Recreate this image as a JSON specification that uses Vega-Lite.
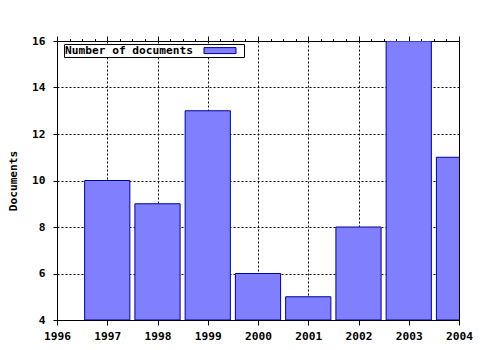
{
  "$schema": "https://vega.github.io/schema/vega-lite/v6.json",
  "width": 402,
  "height": 279,
  "autosize": "none",
  "padding": {"left": 57, "top": 41, "right": 21, "bottom": 30},
  "background": "white",
  "config": {
    "view": {"stroke": "black", "strokeWidth": 1},
    "font": "DejaVu Sans Mono",
    "axis": {
      "labelFont": "DejaVu Sans Mono",
      "labelFontWeight": "bold",
      "labelFontSize": 11.2,
      "labelColor": "black",
      "titleFont": "DejaVu Sans Mono",
      "titleFontWeight": "bold",
      "titleFontSize": 11.2,
      "titleColor": "black",
      "tickColor": "black",
      "domainColor": "black",
      "gridColor": "black",
      "gridDash": [2, 2],
      "gridWidth": 1
    }
  },
  "data": {
    "values": [
      {"year": 1997, "documents": 10},
      {"year": 1998, "documents": 9},
      {"year": 1999, "documents": 13},
      {"year": 2000, "documents": 6},
      {"year": 2001, "documents": 5},
      {"year": 2002, "documents": 8},
      {"year": 2003, "documents": 16},
      {"year": 2004, "documents": 11}
    ]
  },
  "resolve": {"axis": {"x": "independent"}},
  "layer": [
    {
      "mark": {"type": "bar", "width": 45.2, "clip": true, "stroke": "#0000a0", "strokeWidth": 1, "opacity": 1},
      "encoding": {
        "x": {
          "field": "year",
          "type": "quantitative",
          "scale": {"domain": [1996, 2004], "nice": false, "zero": false, "padding": 0},
          "axis": {
            "orient": "bottom",
            "title": null,
            "format": "d",
            "values": [1996, 1996.25, 1996.5, 1996.75, 1997, 1997.25, 1997.5, 1997.75, 1998, 1998.25, 1998.5, 1998.75, 1999, 1999.25, 1999.5, 1999.75, 2000, 2000.25, 2000.5, 2000.75, 2001, 2001.25, 2001.5, 2001.75, 2002, 2002.25, 2002.5, 2002.75, 2003, 2003.25, 2003.5, 2003.75, 2004],
            "labelExpr": "datum.value % 1 === 0 ? datum.label : ''",
            "tickSize": {"condition": {"test": "datum.value % 1 === 0", "value": 5}, "value": 2.5},
            "labelPadding": 5,
            "labelFlush": false,
            "labelOverlap": false,
            "grid": true,
            "gridOpacity": {"condition": {"test": "datum.value % 1 === 0", "value": 1}, "value": 0}
          }
        },
        "y": {
          "field": "documents",
          "type": "quantitative",
          "scale": {"domain": [4, 16], "nice": false, "zero": false, "padding": 0},
          "axis": {
            "orient": "left",
            "title": "Documents",
            "values": [4, 6, 8, 10, 12, 14, 16],
            "tickSize": 4,
            "labelPadding": 8,
            "titlePadding": 13,
            "grid": true
          }
        },
        "y2": {"datum": 4},
        "color": {
          "datum": "Number of documents",
          "scale": {"range": ["#8080ff"]},
          "legend": {
            "title": null,
            "orient": "none",
            "legendX": 7,
            "legendY": 3,
            "strokeColor": "black",
            "fillColor": "white",
            "padding": 1,
            "symbolType": "M-3.2,-0.6H3.2V0.6H-3.2Z M4.2,0",
            "symbolSize": 100,
            "symbolStrokeColor": "#0000a0",
            "symbolStrokeWidth": 1,
            "symbolOffset": 149.4,
            "labelOffset": -160.6,
            "labelFont": "DejaVu Sans Mono",
            "labelFontWeight": "bold",
            "labelFontSize": 11.2,
            "labelColor": "black"
          }
        }
      }
    },
    {
      "mark": {"type": "bar", "width": 45.2, "clip": true, "opacity": 0},
      "encoding": {
        "x": {
          "field": "year",
          "type": "quantitative",
          "axis": {
            "orient": "top",
            "title": null,
            "labels": false,
            "domain": false,
            "grid": false,
            "values": [1996, 1996.25, 1996.5, 1996.75, 1997, 1997.25, 1997.5, 1997.75, 1998, 1998.25, 1998.5, 1998.75, 1999, 1999.25, 1999.5, 1999.75, 2000, 2000.25, 2000.5, 2000.75, 2001, 2001.25, 2001.5, 2001.75, 2002, 2002.25, 2002.5, 2002.75, 2003, 2003.25, 2003.5, 2003.75, 2004],
            "tickSize": {"condition": {"test": "datum.value % 1 === 0", "value": 5}, "value": 2.5}
          }
        },
        "y": {"field": "documents", "type": "quantitative"},
        "y2": {"datum": 4}
      }
    }
  ]
}
